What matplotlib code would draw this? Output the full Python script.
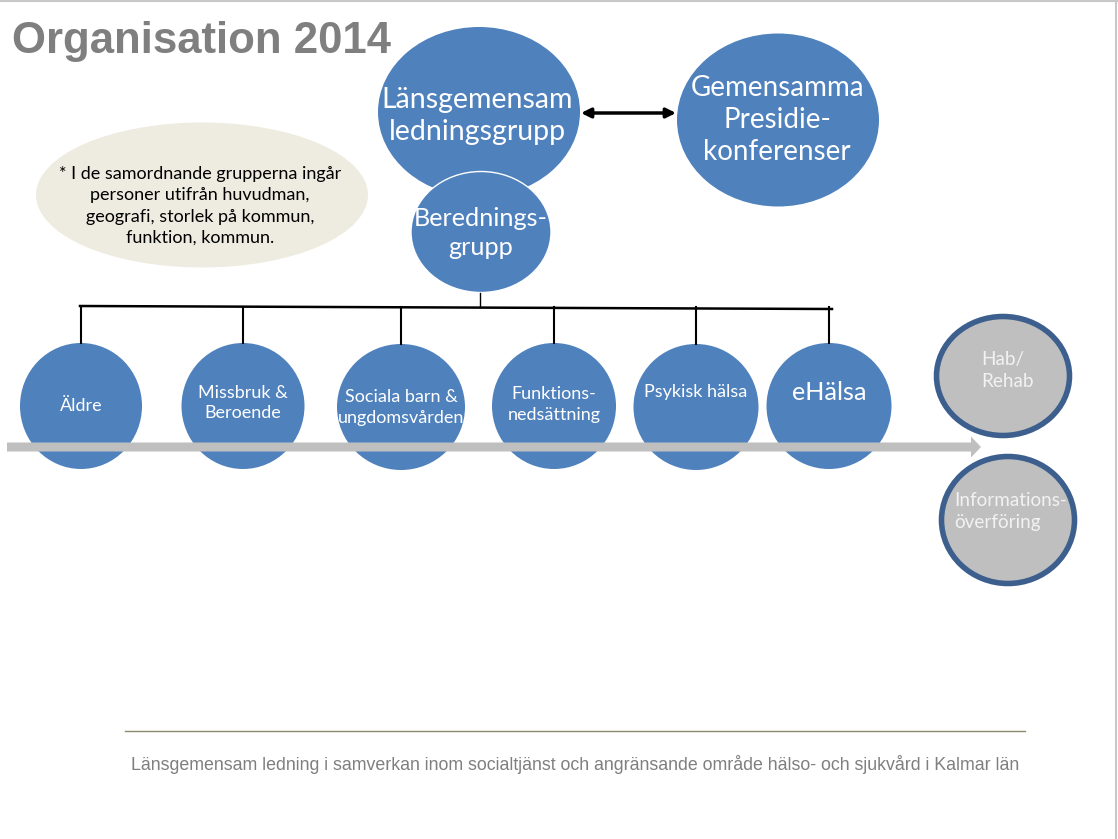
import matplotlib.pyplot as plt
import matplotlib.patches as mpatches

# texts
title = "Organisation 2014"
top_label = "Länsgemensam\nledningsgrupp"
presidie_label = "Gemensamma\nPresidie-\nkonferenser"
bered_label = "Berednings-\ngrupp"
note_label = ("* I de samordnande grupperna ingår\npersoner utifrån huvudman,\n"
              "geografi, storlek på kommun,\nfunktion, kommun.")
groups = ["Äldre", "Missbruk &\nBeroende", "Sociala barn &\nungdomsvården",
          "Funktions-\nnedsättning", "Psykisk hälsa", "eHälsa"]
side_groups = ["Hab/\nRehab", "Informations-\növerföring"]
footer = ("Länsgemensam ledning i samverkan inom socialtjänst och angränsande "
          "område hälso- och sjukvård i Kalmar län")

# layout in pixels
group_x = [81, 243, 401, 554, 696, 829]
group_y = [406, 406, 407, 406, 407, 406]
group_w = [122, 123, 128, 124, 125, 125]
group_ty = [406, 403, 407.5, 404.5, 392, 392]
side_xy = [(1003, 376, 133, 119), (1008, 520, 133, 127)]
side_tx = [981, 954]
side_ty = [370.5, 511.5]

BLUE = "#4f81bd"
GRAY = "#bfbfbf"
CAL = ["Lato", "DejaVu Sans"]

fig = plt.figure(figsize=(11.18, 8.39), dpi=100)
ax = fig.add_axes([0, 0, 1, 1])
ax.set_xlim(0, 1118)
ax.set_ylim(839, 0)
ax.axis("off")

# frame lines
ax.plot([0, 1118], [1, 1], color="#c8c8c8", lw=1.5)
ax.plot([1116, 1116], [0, 839], color="#c8c8c8", lw=1.5)

ax.text(12, 42, title, fontsize=31.5, fontweight="bold", color="#7f7f7f",
        family="Liberation Sans", va="center", ha="left")

# note ellipse
ax.add_patch(mpatches.Ellipse((202, 195), 332, 145, color="#eeece1", lw=0))
ax.text(200, 206, note_label, family=CAL, fontsize=13, color="black",
        ha="center", va="center", linespacing=1.4)

# top circles
ax.add_patch(mpatches.Ellipse((479, 112), 202, 170, color=BLUE, lw=0))
ax.text(477, 116, top_label, family=CAL, fontsize=20.5, color="white",
        ha="center", va="center", linespacing=1.3)
ax.add_patch(mpatches.Ellipse((778, 120), 202, 173, color=BLUE, lw=0))
ax.text(777, 120, presidie_label, family=CAL, fontsize=20, color="white",
        ha="center", va="center", linespacing=1.3)
ax.annotate("", xy=(676, 113), xytext=(581, 113),
            arrowprops=dict(arrowstyle="<|-|>", color="black", lw=2.5,
                            mutation_scale=14, shrinkA=0, shrinkB=0))

ax.add_patch(mpatches.Ellipse((481, 232), 140, 121, facecolor=BLUE,
                              edgecolor="white", lw=1))
ax.text(481, 233, bered_label, family=CAL, fontsize=18.2, color="white",
        ha="center", va="center", linespacing=1.32)

# connectors
ax.plot([480, 480], [293, 307], color="black", lw=1)
ax.plot([80, 832], [306, 309], color="black", lw=1.8)
for gx, gy in zip(group_x, group_y):
    ax.plot([gx, gx], [307, gy - 63], color="black", lw=1.5)

# group circles
for lab, gx, gy, gw, ty in zip(groups, group_x, group_y, group_w, group_ty):
    ax.add_patch(mpatches.Ellipse((gx, gy), gw, 126, color=BLUE, lw=0))
    fs = 18.2 if lab == "eHälsa" else 13
    ax.text(gx, ty, lab, family=CAL, fontsize=fs, color="white",
            ha="center", va="center", linespacing=1.38)

# time arrow
ax.add_patch(mpatches.FancyArrow(7, 447, 964, 0, width=9, head_width=21,
                                 head_length=10, length_includes_head=False,
                                 color=GRAY, lw=0))

# side circles
for (sx, sy, sw, sh) in side_xy:
    ax.add_patch(mpatches.Ellipse((sx, sy), sw, sh, facecolor=GRAY,
                                  edgecolor="#3c5f8e", lw=4))
for lab, tx, ty in zip(side_groups, side_tx, side_ty):
    ax.text(tx, ty, lab, family=CAL, fontsize=13.6, color="#f2f2f2",
            ha="left", va="center", linespacing=1.38)

# footer
ax.plot([125, 1025], [731, 731], color="#8c8a6e", lw=1)
ax.text(575, 765, footer, family="Liberation Sans", fontsize=12.8,
        color="#7f7f7f", ha="center", va="center")

fig.savefig("out.png", dpi=100)
